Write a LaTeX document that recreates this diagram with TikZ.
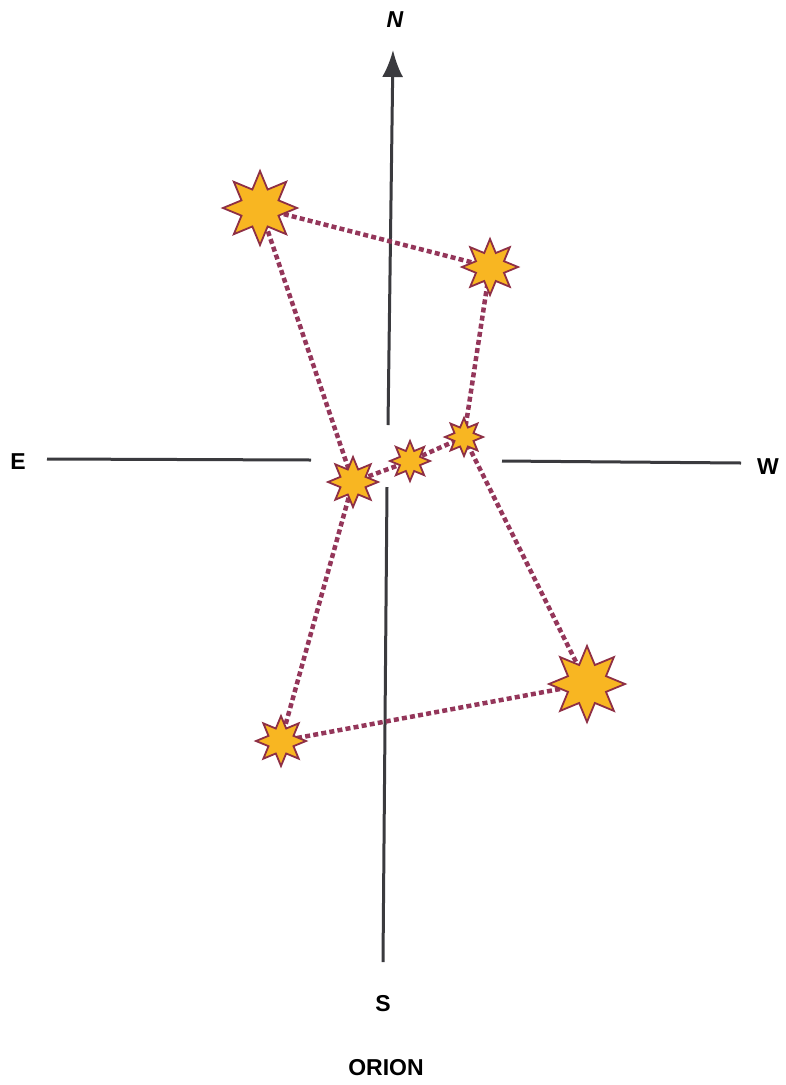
\documentclass[tikz,border=0pt]{standalone}
\usepackage{fontspec}
\setmainfont{Liberation Sans}
\usetikzlibrary{shapes.geometric,arrows.meta}
\definecolor{starfill}{HTML}{F8B622}
\definecolor{staredge}{HTML}{8E2F45}
\definecolor{linkc}{HTML}{94365A}
\definecolor{axisc}{HTML}{3A3A3E}
\tikzset{
  starnode/.style={star, star points=8, star point ratio=1.85, fill=starfill, draw=staredge, line width=1.8pt, inner sep=0pt, minimum size=#1},
  link/.style={linkc, line width=4.5pt, dash pattern=on 5pt off 3.2pt},
  axis/.style={axisc, line width=3pt},
  lbl/.style={font=\bfseries\fontsize{23}{26}\selectfont, inner sep=0pt}
}
\begin{document}
\begin{tikzpicture}[x=1pt,y=-1pt]
\useasboundingbox (0,0) rectangle (786,1085);
% axes
\coordinate (ntip) at (393,50);
\coordinate (nlow) at (388,425);
\coordinate (shigh) at (387,487);
\coordinate (sbot) at (383,962);
\coordinate (ea) at (47,459);
\coordinate (eb) at (311,460);
\coordinate (wa) at (502,461);
\coordinate (wb) at (741,463);
\draw[axis, -{Latex[length=27pt,width=21pt]}] (nlow) -- (ntip);
\draw[axis] (shigh) -- (sbot);
\draw[axis] (ea) -- (eb);
\draw[axis] (wa) -- (wb);
% labels
\node[lbl] (N) at (395,20) {\itshape N};
\node[lbl] (E) at (18,462) {E};
\node[lbl] (W) at (768,467) {W};
\node[lbl] (S) at (383,1004) {S};
\node[lbl] (T) at (386,1068) {ORION};
% stars (coordinates)
\coordinate (betel) at (260,208);
\coordinate (bella) at (490,267);
\coordinate (alnit) at (353,482);
\coordinate (alnil) at (410,461);
\coordinate (minta) at (464,437);
\coordinate (rigel) at (587,684);
\coordinate (saiph) at (281,741);
% links
\draw[link] (betel) -- (bella);
\draw[link] (betel) -- (alnit);
\draw[link] (bella) -- (minta);
\draw[link] (alnit) -- (alnil) -- (minta);
\draw[link] (minta) -- (rigel);
\draw[link] (alnit) -- (saiph);
\draw[link] (saiph) -- (rigel);
% star nodes
\node[starnode=74pt] (s1) at (betel) {};
\node[starnode=56pt] (s2) at (bella) {};
\node[starnode=50pt] (s3) at (alnit) {};
\node[starnode=40pt] (s4) at (alnil) {};
\node[starnode=38pt] (s5) at (minta) {};
\node[starnode=76pt] (s6) at (rigel) {};
\node[starnode=50pt] (s7) at (saiph) {};
\end{tikzpicture}
\end{document}
